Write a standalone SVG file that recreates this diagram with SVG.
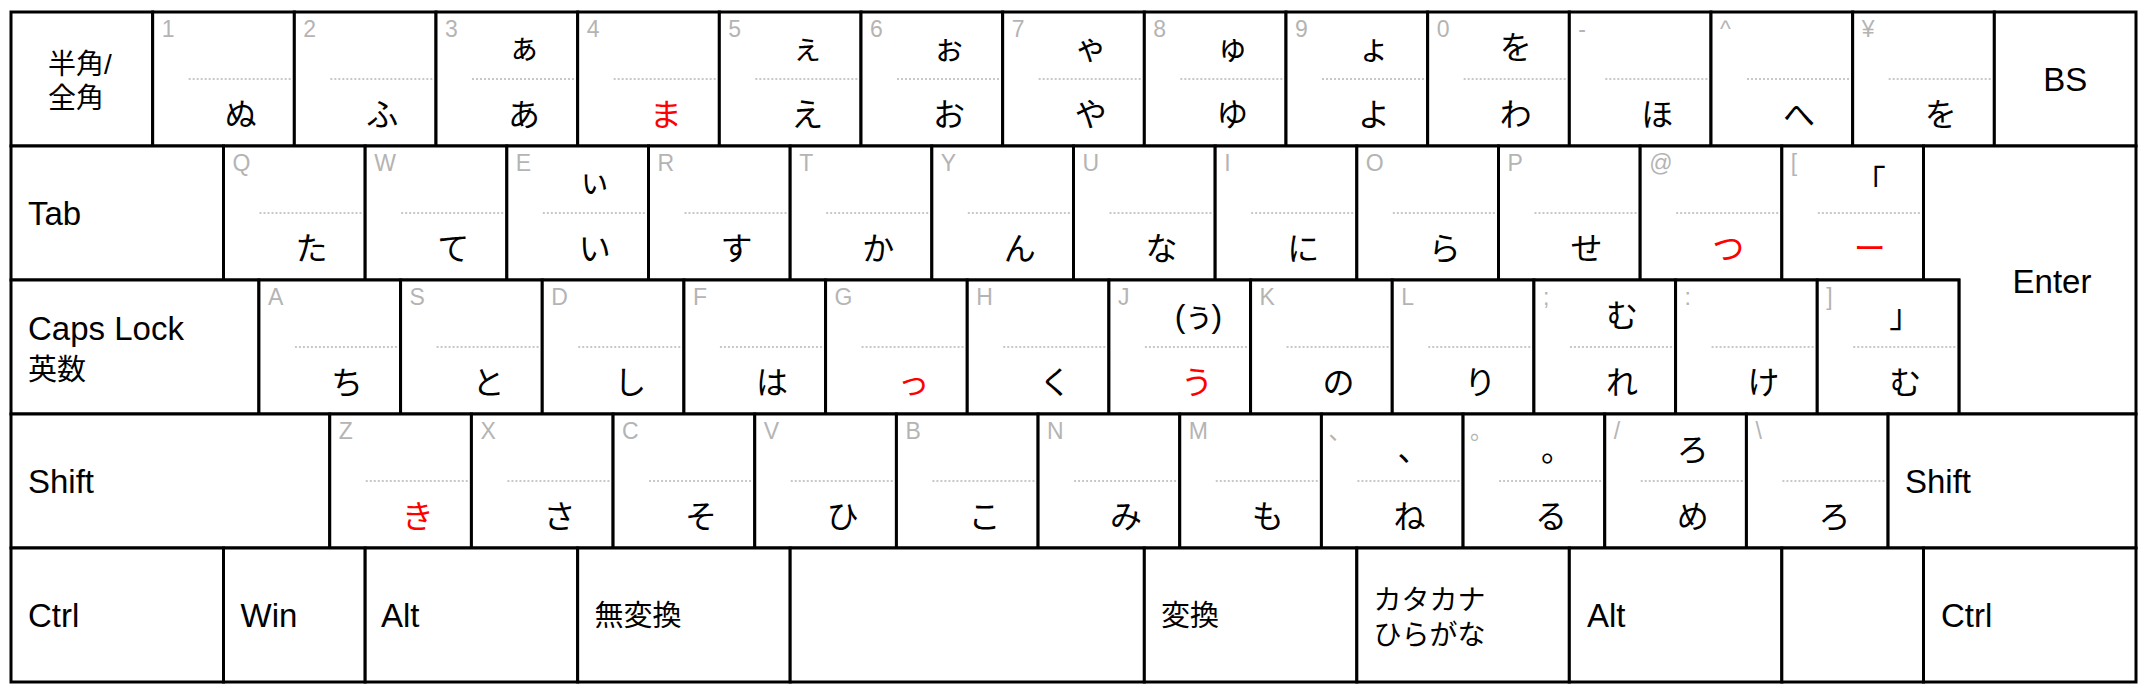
<svg xmlns="http://www.w3.org/2000/svg" width="2152" height="700" viewBox="0 0 2152 700">
<style>
.k{fill:#fff;stroke:#000;stroke-width:3}
.d{stroke:#c8c8c8;stroke-width:2;stroke-dasharray:2 2}
.g{font-family:"Liberation Sans",Arial,"Noto Sans CJK JP",sans-serif;font-size:23px;fill:#b4b4b4}
.j{font-family:"Noto Sans CJK JP",sans-serif;font-size:32px;fill:#000;text-anchor:middle}
.r{fill:#f00}
.p{font-family:"Liberation Sans",Arial,"Noto Sans CJK JP",sans-serif;letter-spacing:-3px}
.t{font-family:"Liberation Sans",Arial,"Noto Sans CJK JP",sans-serif;font-size:33px;fill:#000}
.c{font-family:"Liberation Sans",Arial,"Noto Sans CJK JP",sans-serif;font-size:29px;fill:#000}
.m{text-anchor:middle}
</style>
<rect width="2152" height="700" fill="#fff"/>
<g id="connectors"/>
<!-- Row 1 -->
<g id="k-hankaku"><rect class="k" x="11" y="12" width="141.67" height="134"/><text class="c" x="48" y="74" style="font-size:28px">半角/</text><text class="c" x="48" y="108" style="font-size:28px">全角</text></g>
<g id="k-1"><rect class="k" x="152.67" y="12" width="141.67" height="134"/><text class="g" x="161.67" y="37">1</text><line class="d" x1="188.67" y1="79" x2="291.33" y2="79"/><text class="j" x="240.67" y="126">ぬ</text></g>
<g id="k-2"><rect class="k" x="294.33" y="12" width="141.67" height="134"/><text class="g" x="303.33" y="37">2</text><line class="d" x1="330.33" y1="79" x2="433" y2="79"/><text class="j" x="382.33" y="126">ふ</text></g>
<g id="k-3"><rect class="k" x="436" y="12" width="141.67" height="134"/><text class="g" x="445" y="37">3</text><line class="d" x1="472" y1="79" x2="574.67" y2="79"/><text class="j" x="524" y="59">ぁ</text><text class="j" x="524" y="126">あ</text></g>
<g id="k-4"><rect class="k" x="577.67" y="12" width="141.67" height="134"/><text class="g" x="586.67" y="37">4</text><line class="d" x1="613.67" y1="79" x2="716.33" y2="79"/><text class="j r" x="665.67" y="126">ま</text></g>
<g id="k-5"><rect class="k" x="719.33" y="12" width="141.67" height="134"/><text class="g" x="728.33" y="37">5</text><line class="d" x1="755.33" y1="79" x2="858" y2="79"/><text class="j" x="807.33" y="59">ぇ</text><text class="j" x="807.33" y="126">え</text></g>
<g id="k-6"><rect class="k" x="861" y="12" width="141.67" height="134"/><text class="g" x="870" y="37">6</text><line class="d" x1="897" y1="79" x2="999.67" y2="79"/><text class="j" x="949" y="59">ぉ</text><text class="j" x="949" y="126">お</text></g>
<g id="k-7"><rect class="k" x="1002.67" y="12" width="141.67" height="134"/><text class="g" x="1011.67" y="37">7</text><line class="d" x1="1038.67" y1="79" x2="1141.33" y2="79"/><text class="j" x="1090.67" y="59">ゃ</text><text class="j" x="1090.67" y="126">や</text></g>
<g id="k-8"><rect class="k" x="1144.33" y="12" width="141.67" height="134"/><text class="g" x="1153.33" y="37">8</text><line class="d" x1="1180.33" y1="79" x2="1283" y2="79"/><text class="j" x="1232.33" y="59">ゅ</text><text class="j" x="1232.33" y="126">ゆ</text></g>
<g id="k-9"><rect class="k" x="1286" y="12" width="141.67" height="134"/><text class="g" x="1295" y="37">9</text><line class="d" x1="1322" y1="79" x2="1424.67" y2="79"/><text class="j" x="1374" y="59">ょ</text><text class="j" x="1374" y="126">よ</text></g>
<g id="k-0"><rect class="k" x="1427.67" y="12" width="141.67" height="134"/><text class="g" x="1436.67" y="37">0</text><line class="d" x1="1463.67" y1="79" x2="1566.33" y2="79"/><text class="j" x="1515.67" y="59">を</text><text class="j" x="1515.67" y="126">わ</text></g>
<g id="k-minus"><rect class="k" x="1569.33" y="12" width="141.67" height="134"/><text class="g" x="1578.33" y="37">-</text><line class="d" x1="1605.33" y1="79" x2="1708" y2="79"/><text class="j" x="1657.33" y="126">ほ</text></g>
<g id="k-caret"><rect class="k" x="1711" y="12" width="141.67" height="134"/><text class="g" x="1720" y="37">^</text><line class="d" x1="1747" y1="79" x2="1849.67" y2="79"/><text class="j" x="1799" y="126">へ</text></g>
<g id="k-yen"><rect class="k" x="1852.67" y="12" width="141.67" height="134"/><text class="g" x="1861.67" y="37">¥</text><line class="d" x1="1888.67" y1="79" x2="1991.33" y2="79"/><text class="j" x="1940.67" y="126">を</text></g>
<g id="k-bs"><rect class="k" x="1994.33" y="12" width="141.67" height="134"/><text class="t m" x="2065.17" y="91">BS</text></g>
<!-- Row 2 -->
<g id="k-tab"><rect class="k" x="11" y="146" width="212.5" height="134"/><text class="t" x="28" y="225">Tab</text></g>
<g id="k-q"><rect class="k" x="223.5" y="146" width="141.67" height="134"/><text class="g" x="232.5" y="171">Q</text><line class="d" x1="259.5" y1="213" x2="362.17" y2="213"/><text class="j" x="311.5" y="260">た</text></g>
<g id="k-w"><rect class="k" x="365.17" y="146" width="141.67" height="134"/><text class="g" x="374.17" y="171">W</text><line class="d" x1="401.17" y1="213" x2="503.83" y2="213"/><text class="j" x="453.17" y="260">て</text></g>
<g id="k-e"><rect class="k" x="506.83" y="146" width="141.67" height="134"/><text class="g" x="515.83" y="171">E</text><line class="d" x1="542.83" y1="213" x2="645.5" y2="213"/><text class="j" x="594.83" y="193">ぃ</text><text class="j" x="594.83" y="260">い</text></g>
<g id="k-r"><rect class="k" x="648.5" y="146" width="141.67" height="134"/><text class="g" x="657.5" y="171">R</text><line class="d" x1="684.5" y1="213" x2="787.17" y2="213"/><text class="j" x="736.5" y="260">す</text></g>
<g id="k-t"><rect class="k" x="790.17" y="146" width="141.67" height="134"/><text class="g" x="799.17" y="171">T</text><line class="d" x1="826.17" y1="213" x2="928.83" y2="213"/><text class="j" x="878.17" y="260">か</text></g>
<g id="k-y"><rect class="k" x="931.83" y="146" width="141.67" height="134"/><text class="g" x="940.83" y="171">Y</text><line class="d" x1="967.83" y1="213" x2="1070.5" y2="213"/><text class="j" x="1019.83" y="260">ん</text></g>
<g id="k-u"><rect class="k" x="1073.5" y="146" width="141.67" height="134"/><text class="g" x="1082.5" y="171">U</text><line class="d" x1="1109.5" y1="213" x2="1212.17" y2="213"/><text class="j" x="1161.5" y="260">な</text></g>
<g id="k-i"><rect class="k" x="1215.17" y="146" width="141.67" height="134"/><text class="g" x="1224.17" y="171">I</text><line class="d" x1="1251.17" y1="213" x2="1353.83" y2="213"/><text class="j" x="1303.17" y="260">に</text></g>
<g id="k-o"><rect class="k" x="1356.83" y="146" width="141.67" height="134"/><text class="g" x="1365.83" y="171">O</text><line class="d" x1="1392.83" y1="213" x2="1495.5" y2="213"/><text class="j" x="1444.83" y="260">ら</text></g>
<g id="k-p"><rect class="k" x="1498.5" y="146" width="141.67" height="134"/><text class="g" x="1507.5" y="171">P</text><line class="d" x1="1534.5" y1="213" x2="1637.17" y2="213"/><text class="j" x="1586.5" y="260">せ</text></g>
<g id="k-at"><rect class="k" x="1640.17" y="146" width="141.67" height="134"/><text class="g" x="1649.17" y="171">@</text><line class="d" x1="1676.17" y1="213" x2="1778.83" y2="213"/><text class="j r" x="1728.17" y="260">つ</text></g>
<g id="k-lbracket"><rect class="k" x="1781.83" y="146" width="141.67" height="134"/><text class="g" x="1790.83" y="171">[</text><line class="d" x1="1817.83" y1="213" x2="1920.5" y2="213"/><text class="j" x="1869.83" y="193">「</text><text class="j r" x="1869.83" y="260">ー</text></g>
<g id="k-enter"><path class="k" d="M1923.5 146H2136V414H1958.92V280H1923.5Z"/><text class="t m" x="2052" y="293">Enter</text></g>
<!-- Row 3 -->
<g id="k-caps"><rect class="k" x="11" y="280" width="247.92" height="134"/><text class="t" x="28" y="340">Caps Lock</text><text class="c" x="28" y="380">英数</text></g>
<g id="k-a"><rect class="k" x="258.92" y="280" width="141.67" height="134"/><text class="g" x="267.92" y="305">A</text><line class="d" x1="294.92" y1="347" x2="397.58" y2="347"/><text class="j" x="346.92" y="394">ち</text></g>
<g id="k-s"><rect class="k" x="400.58" y="280" width="141.67" height="134"/><text class="g" x="409.58" y="305">S</text><line class="d" x1="436.58" y1="347" x2="539.25" y2="347"/><text class="j" x="488.58" y="394">と</text></g>
<g id="k-d"><rect class="k" x="542.25" y="280" width="141.67" height="134"/><text class="g" x="551.25" y="305">D</text><line class="d" x1="578.25" y1="347" x2="680.92" y2="347"/><text class="j" x="630.25" y="394">し</text></g>
<g id="k-f"><rect class="k" x="683.92" y="280" width="141.67" height="134"/><text class="g" x="692.92" y="305">F</text><line class="d" x1="719.92" y1="347" x2="822.58" y2="347"/><text class="j" x="771.92" y="394">は</text></g>
<g id="k-g"><rect class="k" x="825.58" y="280" width="141.67" height="134"/><text class="g" x="834.58" y="305">G</text><line class="d" x1="861.58" y1="347" x2="964.25" y2="347"/><text class="j r" x="913.58" y="394">っ</text></g>
<g id="k-h"><rect class="k" x="967.25" y="280" width="141.67" height="134"/><text class="g" x="976.25" y="305">H</text><line class="d" x1="1003.25" y1="347" x2="1105.92" y2="347"/><text class="j" x="1055.25" y="394">く</text></g>
<g id="k-j"><rect class="k" x="1108.92" y="280" width="141.67" height="134"/><text class="g" x="1117.92" y="305">J</text><line class="d" x1="1144.92" y1="347" x2="1247.58" y2="347"/><text class="j p" x="1196.92" y="327">(ぅ)</text><text class="j r" x="1196.92" y="394">う</text></g>
<g id="k-k"><rect class="k" x="1250.58" y="280" width="141.67" height="134"/><text class="g" x="1259.58" y="305">K</text><line class="d" x1="1286.58" y1="347" x2="1389.25" y2="347"/><text class="j" x="1338.58" y="394">の</text></g>
<g id="k-l"><rect class="k" x="1392.25" y="280" width="141.67" height="134"/><text class="g" x="1401.25" y="305">L</text><line class="d" x1="1428.25" y1="347" x2="1530.92" y2="347"/><text class="j" x="1480.25" y="394">り</text></g>
<g id="k-semicolon"><rect class="k" x="1533.92" y="280" width="141.67" height="134"/><text class="g" x="1542.92" y="305">;</text><line class="d" x1="1569.92" y1="347" x2="1672.58" y2="347"/><text class="j" x="1621.92" y="327">む</text><text class="j" x="1621.92" y="394">れ</text></g>
<g id="k-colon"><rect class="k" x="1675.58" y="280" width="141.67" height="134"/><text class="g" x="1684.58" y="305">:</text><line class="d" x1="1711.58" y1="347" x2="1814.25" y2="347"/><text class="j" x="1763.58" y="394">け</text></g>
<g id="k-rbracket"><rect class="k" x="1817.25" y="280" width="141.67" height="134"/><text class="g" x="1826.25" y="305">]</text><line class="d" x1="1853.25" y1="347" x2="1955.92" y2="347"/><text class="j" x="1905.25" y="327">」</text><text class="j" x="1905.25" y="394">む</text></g>
<!-- Row 4 -->
<g id="k-lshift"><rect class="k" x="11" y="414" width="318.75" height="134"/><text class="t" x="28" y="493">Shift</text></g>
<g id="k-z"><rect class="k" x="329.75" y="414" width="141.67" height="134"/><text class="g" x="338.75" y="439">Z</text><line class="d" x1="365.75" y1="481" x2="468.42" y2="481"/><text class="j r" x="417.75" y="528">き</text></g>
<g id="k-x"><rect class="k" x="471.42" y="414" width="141.67" height="134"/><text class="g" x="480.42" y="439">X</text><line class="d" x1="507.42" y1="481" x2="610.08" y2="481"/><text class="j" x="559.42" y="528">さ</text></g>
<g id="k-c"><rect class="k" x="613.08" y="414" width="141.67" height="134"/><text class="g" x="622.08" y="439">C</text><line class="d" x1="649.08" y1="481" x2="751.75" y2="481"/><text class="j" x="701.08" y="528">そ</text></g>
<g id="k-v"><rect class="k" x="754.75" y="414" width="141.67" height="134"/><text class="g" x="763.75" y="439">V</text><line class="d" x1="790.75" y1="481" x2="893.42" y2="481"/><text class="j" x="842.75" y="528">ひ</text></g>
<g id="k-b"><rect class="k" x="896.42" y="414" width="141.67" height="134"/><text class="g" x="905.42" y="439">B</text><line class="d" x1="932.42" y1="481" x2="1035.08" y2="481"/><text class="j" x="984.42" y="528">こ</text></g>
<g id="k-n"><rect class="k" x="1038.08" y="414" width="141.67" height="134"/><text class="g" x="1047.08" y="439">N</text><line class="d" x1="1074.08" y1="481" x2="1176.75" y2="481"/><text class="j" x="1126.08" y="528">み</text></g>
<g id="k-m"><rect class="k" x="1179.75" y="414" width="141.67" height="134"/><text class="g" x="1188.75" y="439">M</text><line class="d" x1="1215.75" y1="481" x2="1318.42" y2="481"/><text class="j" x="1267.75" y="528">も</text></g>
<g id="k-comma"><rect class="k" x="1321.42" y="414" width="141.67" height="134"/><text class="g" x="1328.42" y="439">、</text><line class="d" x1="1357.42" y1="481" x2="1460.08" y2="481"/><text class="j" x="1413.42" y="461">、</text><text class="j" x="1409.42" y="528">ね</text></g>
<g id="k-period"><rect class="k" x="1463.08" y="414" width="141.67" height="134"/><text class="g" x="1470.08" y="439">。</text><line class="d" x1="1499.08" y1="481" x2="1601.75" y2="481"/><text class="j" x="1557.08" y="461">。</text><text class="j" x="1551.08" y="528">る</text></g>
<g id="k-slash"><rect class="k" x="1604.75" y="414" width="141.67" height="134"/><text class="g" x="1613.75" y="439">/</text><line class="d" x1="1640.75" y1="481" x2="1743.42" y2="481"/><text class="j" x="1692.75" y="461">ろ</text><text class="j" x="1692.75" y="528">め</text></g>
<g id="k-backslash"><rect class="k" x="1746.42" y="414" width="141.67" height="134"/><text class="g" x="1755.42" y="439">\</text><line class="d" x1="1782.42" y1="481" x2="1885.08" y2="481"/><text class="j" x="1834.42" y="528">ろ</text></g>
<g id="k-rshift"><rect class="k" x="1888.08" y="414" width="247.92" height="134"/><text class="t" x="1905" y="493">Shift</text></g>
<!-- Row 5 -->
<g id="k-lctrl"><rect class="k" x="11" y="548" width="212.5" height="134"/><text class="t" x="28" y="627">Ctrl</text></g>
<g id="k-win"><rect class="k" x="223.5" y="548" width="141.67" height="134"/><text class="t" x="240.5" y="627">Win</text></g>
<g id="k-lalt"><rect class="k" x="365.17" y="548" width="212.5" height="134"/><text class="t" x="381" y="627">Alt</text></g>
<g id="k-muhenkan"><rect class="k" x="577.67" y="548" width="212.5" height="134"/><text class="c" x="594.5" y="626">無変換</text></g>
<g id="k-space"><rect class="k" x="790.17" y="548" width="354.17" height="134"/></g>
<g id="k-henkan"><rect class="k" x="1144.33" y="548" width="212.5" height="134"/><text class="c" x="1161" y="626">変換</text></g>
<g id="k-kana"><rect class="k" x="1356.83" y="548" width="212.5" height="134"/><text class="c" x="1373.5" y="610" style="font-size:28px">カタカナ</text><text class="c" x="1373.5" y="645" style="font-size:28px">ひらがな</text></g>
<g id="k-ralt"><rect class="k" x="1569.33" y="548" width="212.5" height="134"/><text class="t" x="1587" y="627">Alt</text></g>
<g id="k-blank"><rect class="k" x="1781.83" y="548" width="141.67" height="134"/></g>
<g id="k-rctrl"><rect class="k" x="1923.5" y="548" width="212.5" height="134"/><text class="t" x="1941" y="627">Ctrl</text></g>
</svg>
